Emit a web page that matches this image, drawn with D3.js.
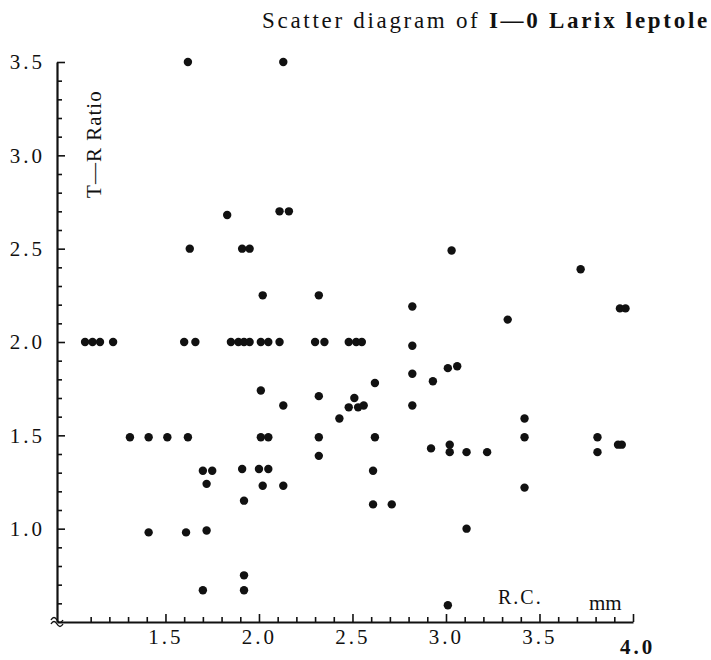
<!DOCTYPE html>
<html>
<head>
<meta charset="utf-8">
<script src="https://cdn.jsdelivr.net/npm/d3@7"></script>
<style>
  body { margin: 0; background: #fff; }
  svg text { font-family: "Liberation Serif", "DejaVu Serif", serif; fill: #111; }
</style>
</head>
<body>
<div id="chart"></div>
<script>
// root collar diameter (mm) vs top/root ratio
const rcValues = [
  1.62, 2.13, 1.83, 2.11, 2.16, 1.63, 1.91, 1.95, 2.02, 2.32, 2.82, 3.03, 3.33, 3.72, 3.93, 3.96,
  1.07, 1.11, 1.15, 1.22, 1.60, 1.66, 1.85, 1.89, 1.92, 1.95, 2.01, 2.05, 2.11, 2.30, 2.35, 2.48, 2.52, 2.55,
  2.82, 2.82, 3.01, 3.06, 2.93, 2.62, 2.32, 2.51, 2.48, 2.53, 2.56, 2.43, 2.82, 3.42, 3.42, 2.01, 2.13,
  1.31, 1.41, 1.51, 1.62, 2.01, 2.05, 2.32, 2.62,
  2.32, 2.92, 3.02, 3.02, 3.11, 3.22, 3.81, 3.81, 3.92, 3.94, 3.42, 3.11, 3.01,
  1.70, 1.75, 1.91, 2.00, 2.05, 2.61, 1.72, 2.02, 2.13, 1.92, 2.61, 2.71,
  1.41, 1.61, 1.72, 1.92, 1.70, 1.92
];
const trValues = [
  3.50, 3.50, 2.68, 2.70, 2.70, 2.50, 2.50, 2.50, 2.25, 2.25, 2.19, 2.49, 2.12, 2.39, 2.18, 2.18,
  2.00, 2.00, 2.00, 2.00, 2.00, 2.00, 2.00, 2.00, 2.00, 2.00, 2.00, 2.00, 2.00, 2.00, 2.00, 2.00, 2.00, 2.00,
  1.98, 1.83, 1.86, 1.87, 1.79, 1.78, 1.71, 1.70, 1.65, 1.65, 1.66, 1.59, 1.66, 1.59, 1.49, 1.74, 1.66,
  1.49, 1.49, 1.49, 1.49, 1.49, 1.49, 1.49, 1.49,
  1.39, 1.43, 1.45, 1.41, 1.41, 1.41, 1.49, 1.41, 1.45, 1.45, 1.22, 1.00, 0.59,
  1.31, 1.31, 1.32, 1.32, 1.32, 1.31, 1.24, 1.23, 1.23, 1.15, 1.13, 1.13,
  0.98, 0.98, 0.99, 0.75, 0.67, 0.67
];
const xTickLabels = ["1.5", "2.0", "2.5", "3.0", "3.5", "4.0"];
const yTickLabels = ["1.0", "1.5", "2.0", "2.5", "3.0", "3.5"];

class ScatterPlot {
  constructor(_config, _x, _y) {
    this.config = {
      parentElement: _config.parentElement,
      width: _config.width || 711,
      height: _config.height || 660
    };
    this.xData = _x;
    this.yData = _y;
    this.initVis();
  }

  initVis() {
    let vis = this;

    vis.svg = d3.select(vis.config.parentElement).append('svg')
      .attr('width', vis.config.width)
      .attr('height', vis.config.height);

    // the axis origin is broken, x starts a bit below 1.0
    vis.xScale = d3.scaleLinear().domain([0.92, 4.0]).range([57, 633]);
    vis.yScale = d3.scaleLinear().domain([0.5, 3.5]).range([622, 62]);

    vis.xMajor = xTickLabels.map(Number);
    vis.yMajor = yTickLabels.map(Number);
    vis.xMinor = d3.range(11, 41).map(d => d / 10).filter(d => !vis.xMajor.includes(d));
    vis.yMinor = d3.range(6, 35).map(d => d / 10).filter(d => !vis.yMajor.includes(d));

    const bottom = vis.yScale.range()[0];
    const left = vis.xScale.range()[0];

    // x axis: minor ticks first, then the labelled ones
    vis.svg.append('g')
      .attr('transform', `translate(0,${bottom})`)
      .call(d3.axisBottom(vis.xScale).tickValues(vis.xMinor).tickSize(-5).tickFormat(''))
      .call(g => g.select('.domain').remove());
    vis.xAxisG = vis.svg.append('g')
      .attr('transform', `translate(0,${bottom})`)
      .call(d3.axisBottom(vis.xScale).tickValues(vis.xMajor).tickSize(-8).tickSizeOuter(0).tickPadding(20)
        .tickFormat((d, i) => xTickLabels[i]));
    vis.xAxisG.selectAll('text')
      .attr('font-size', 21).style('letter-spacing', '3px').attr('dy', '0.1em');
    // the last label sits lower and heavier in the scan
    vis.xAxisG.selectAll('.tick').filter(d => d === 4.0).select('text')
      .attr('font-weight', 'bold').attr('font-size', 21).attr('dy', '0.55em').attr('x', 4);

    // y axis, ticks point inward
    vis.svg.append('g')
      .attr('transform', `translate(${left},0)`)
      .call(d3.axisLeft(vis.yScale).tickValues(vis.yMinor).tickSize(-5).tickFormat(''))
      .call(g => g.select('.domain').remove());
    vis.yAxisG = vis.svg.append('g')
      .attr('transform', `translate(${left},0)`)
      .call(d3.axisLeft(vis.yScale).tickValues(vis.yMajor).tickSize(-8).tickSizeOuter(0).tickPadding(12)
        .tickFormat((d, i) => yTickLabels[i]));
    vis.yAxisG.selectAll('text').attr('font-size', 21).style('letter-spacing', '3px');

    vis.svg.selectAll('.domain, .tick line').attr('stroke', '#111').attr('stroke-width', 1.6);
    vis.svg.selectAll('.domain').attr('stroke-width', 2.2);

    // little break mark at the origin
    vis.svg.append('path')
      .attr('d', `M${left - 6},${bottom - 2} q3,-5 6,0 t6,0 M${left - 6},${bottom + 2} q3,-5 6,0 t6,0`)
      .attr('fill', 'none').attr('stroke', '#111').attr('stroke-width', 1.4);

    vis.svg.append('text')
      .attr('transform', `translate(101,${vis.yScale(3.06)}) rotate(-90)`)
      .attr('text-anchor', 'middle')
      .attr('font-size', 21)
      .style('letter-spacing', '1px')
      .text('T—R Ratio');

    vis.svg.append('text').attr('x', 498).attr('y', 604).attr('font-size', 20)
      .style('letter-spacing', '2px').text('R.C.');
    vis.svg.append('text').attr('x', 589).attr('y', 610).attr('font-size', 21).text('mm');

    const title = vis.svg.append('text').attr('x', 262).attr('y', 28).attr('font-size', 23)
      .style('letter-spacing', '2.7px');
    title.append('tspan').text('Scatter diagram of ');
    title.append('tspan').attr('font-weight', 'bold').text('I—0 Larix leptole');

    vis.dots = vis.svg.append('g').selectAll('circle')
      .data(vis.xData.map((d, i) => ({ rc: d, tr: vis.yData[i] })))
      .join('circle')
        .attr('cx', d => vis.xScale(d.rc))
        .attr('cy', d => vis.yScale(d.tr))
        .attr('r', 4.2)
        .attr('fill', '#111');
  }
}

new ScatterPlot({ parentElement: '#chart' }, rcValues, trValues);
</script>
</body>
</html>
